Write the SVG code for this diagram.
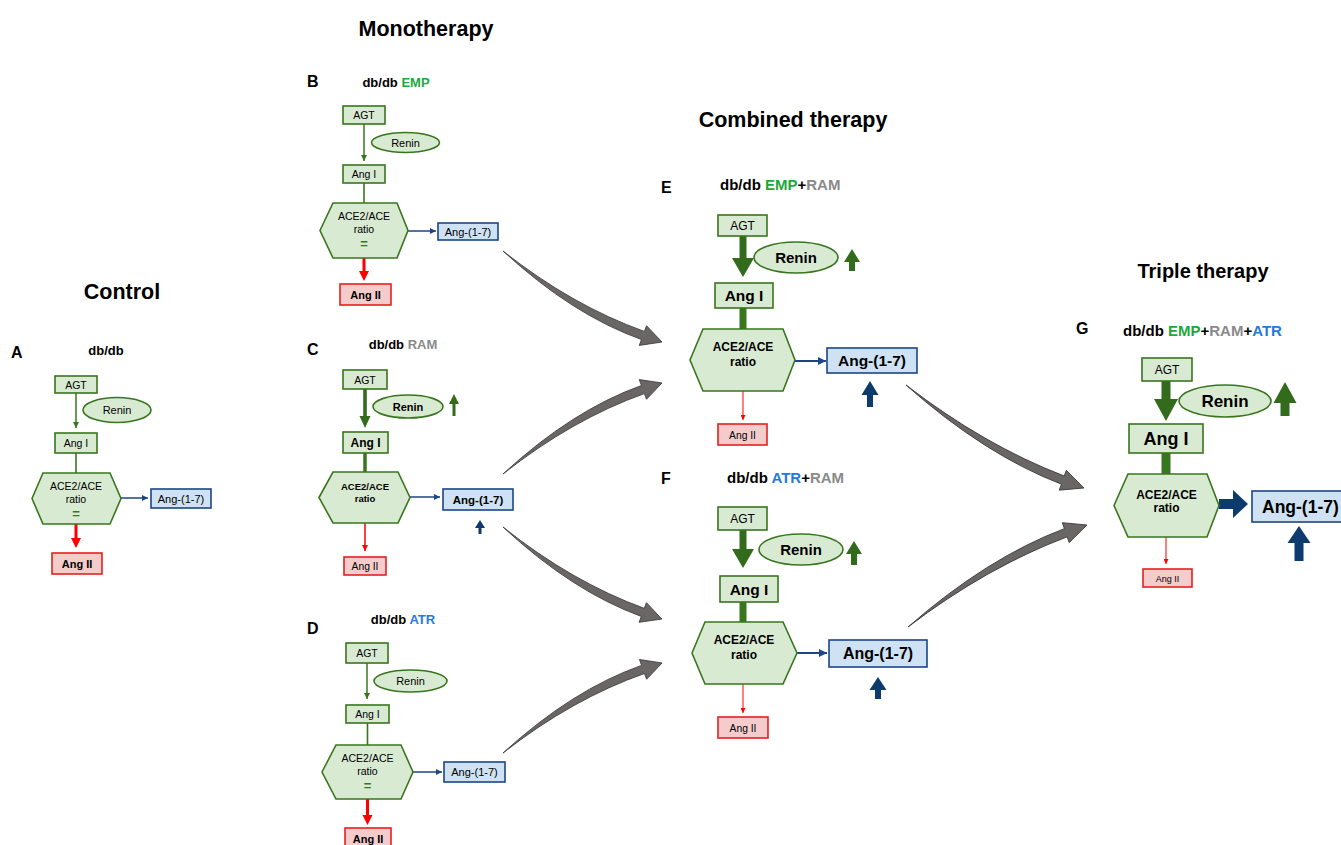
<svg xmlns="http://www.w3.org/2000/svg" width="1341" height="845" viewBox="0 0 1341 845">
<style>
text{font-family:"Liberation Sans",Arial,sans-serif;text-anchor:middle;fill:#000}
.h{font-size:21.5px;font-weight:bold}
.pl{font-size:16px;font-weight:bold;text-anchor:start}
.t1{font-size:13px;font-weight:bold}
.t2{font-size:15px;font-weight:bold;text-anchor:start}
.bd{font-weight:bold}
.n{fill:#d9ead3;stroke:#38761d;stroke-width:1.6}
.b{fill:#cfe2f3;stroke:#1c4587;stroke-width:1.6}
.r{fill:#f4cccc;stroke:#e8201f;stroke-width:1.6}
.emp{fill:#1fa83a}.ram{fill:#8a8a8a}.atr{fill:#1f7be0}
.gl{stroke:#38761d;fill:none}
.bl{stroke:#1c4587;fill:none}
.rl{stroke:#ff0000;fill:none}
.ga{fill:#336b1d}
.ba{fill:#0d3b6e}
.ra{fill:#ff0000}
.eq{fill:#38761d;font-weight:bold;font-size:13px}
.grey{fill:#6b6666;stroke:#3a3a3a;stroke-width:0.8}
</style>
<defs>
<marker id="mg" viewBox="0 0 10 10" refX="10" refY="5" markerWidth="6" markerHeight="6" markerUnits="userSpaceOnUse" orient="auto"><path d="M0,0L10,5L0,10z" fill="#38761d"/></marker>
<marker id="mb" viewBox="0 0 10 10" refX="10" refY="5" markerWidth="6" markerHeight="6" markerUnits="userSpaceOnUse" orient="auto"><path d="M0,0L10,5L0,10z" fill="#1c4587"/></marker>
<marker id="mb2" viewBox="0 0 10 10" refX="10" refY="5" markerWidth="8" markerHeight="8" markerUnits="userSpaceOnUse" orient="auto"><path d="M0,0L10,5L0,10z" fill="#1c4587"/></marker>
<marker id="mr" viewBox="0 0 10 10" refX="10" refY="5" markerWidth="6" markerHeight="6" markerUnits="userSpaceOnUse" orient="auto"><path d="M0,0L10,5L0,10z" fill="#ff0000"/></marker>
<marker id="mr2" viewBox="0 0 10 10" refX="10" refY="5" markerWidth="5" markerHeight="5" markerUnits="userSpaceOnUse" orient="auto"><path d="M0,0L10,5L0,10z" fill="#ff0000"/></marker>
<path id="curv" d="M0,0 Q95,13 177.6,-0.5 L176.5,-6.5 L200,0 L180.3,14.2 L179.2,8 Q100,21 0,0 Z"/>
</defs>

<!-- headings -->
<text class="h" x="426" y="36">Monotherapy</text>
<text class="h" x="122" y="299">Control</text>
<text class="h" x="793" y="127">Combined therapy</text>
<text class="h" x="1203" y="278" style="font-size:20px">Triple therapy</text>

<!-- panel labels and titles -->
<text class="pl" x="11" y="358">A</text>
<text class="t1" x="106" y="355">db/db</text>
<text class="pl" x="307" y="87">B</text>
<text class="t1" x="396" y="87">db/db <tspan class="emp">EMP</tspan></text>
<text class="pl" x="307" y="355">C</text>
<text class="t1" x="403" y="349">db/db <tspan class="ram">RAM</tspan></text>
<text class="pl" x="307" y="634">D</text>
<text class="t1" x="403" y="624">db/db <tspan class="atr">ATR</tspan></text>
<text class="pl" x="661" y="193">E</text>
<text class="t2" x="720" y="190">db/db <tspan class="emp">EMP</tspan>+<tspan class="ram">RAM</tspan></text>
<text class="pl" x="661" y="484">F</text>
<text class="t2" x="727" y="483">db/db <tspan class="atr">ATR</tspan>+<tspan class="ram">RAM</tspan></text>
<text class="pl" x="1076" y="334">G</text>
<text class="t2" x="1123" y="336">db/db <tspan class="emp">EMP</tspan>+<tspan class="ram">RAM</tspan>+<tspan class="atr">ATR</tspan></text>

<!-- connectors -->
<g id="connectors">
  <!-- A -->
  <line class="gl" stroke-width="1.5" x1="76" y1="393" x2="76" y2="428" marker-end="url(#mg)"/>
  <line class="gl" stroke-width="1.6" x1="76" y1="453" x2="76" y2="473"/>
  <line class="bl" stroke-width="1.5" x1="121" y1="498" x2="148" y2="498" marker-end="url(#mb)"/>
  <polygon class="ra" points="74.5,524 77.5,524 77.5,538 81,538 76,548 71,538 74.5,538"/>
  <!-- B -->
  <line class="gl" stroke-width="1.5" x1="364" y1="124" x2="364" y2="161" marker-end="url(#mg)"/>
  <line class="gl" stroke-width="1.6" x1="364" y1="183" x2="364" y2="203"/>
  <line class="bl" stroke-width="1.5" x1="408" y1="231" x2="436" y2="231" marker-end="url(#mb)"/>
  <polygon class="ra" points="362.5,258 365.5,258 365.5,271 369,271 364,281 359,271 362.5,271"/>
  <!-- C -->
  <polygon class="ga" points="363.2,389 366.8,389 366.8,416 370.5,416 365,428 359.5,416 363.2,416"/>
  <polygon class="ga" points="452.5,416 455.5,416 455.5,404 459,404 454,394 449,404 452.5,404"/>
  <line class="gl" stroke-width="3.5" x1="365" y1="453" x2="365" y2="472"/>
  <polygon class="ga" points="364.4,522 365.6,522 365.6,515 367.5,515 365,510 362.5,515 364.4,515"/>
  <line class="bl" stroke-width="1.5" x1="410" y1="497" x2="440" y2="497" marker-end="url(#mb)"/>
  <polygon class="ba" points="478.5,534 481.5,534 481.5,528 485,528 480,520 475,528 478.5,528"/>
  <line class="rl" stroke-width="1.5" x1="365" y1="523" x2="365" y2="551" marker-end="url(#mr)"/>
  <!-- D -->
  <line class="gl" stroke-width="1.5" x1="367" y1="663" x2="367" y2="699" marker-end="url(#mg)"/>
  <line class="gl" stroke-width="1.6" x1="367.5" y1="723" x2="367.5" y2="745"/>
  <line class="bl" stroke-width="1.5" x1="413" y1="772" x2="442" y2="772" marker-end="url(#mb)"/>
  <polygon class="ra" points="366,799 369,799 369,815 372.5,815 367.5,825 362.5,815 366,815"/>
  <!-- E -->
  <polygon class="ga" points="739.5,236 746.5,236 746.5,258 754,258 743,277 732,258 739.5,258"/>
  <polygon class="ga" points="849,271 855,271 855,262 860,262 852,249 844,262 849,262"/>
  <line class="gl" stroke-width="7" x1="743" y1="308" x2="743" y2="329"/>
  <polygon class="ga" points="741.8,385 744.2,385 744.2,378 746.5,378 743,372 739.5,378 741.8,378"/>
  <line class="bl" stroke-width="2" x1="795" y1="361" x2="826" y2="361" marker-end="url(#mb2)"/>
  <polygon class="ba" points="867,407 873,407 873,395 878.5,395 870,381 861.5,395 867,395"/>
  <line class="rl" stroke-width="1" x1="743" y1="391" x2="743" y2="420" marker-end="url(#mr2)"/>
  <!-- F -->
  <polygon class="ga" points="739.5,530 746.5,530 746.5,549 754,549 743,568 732,549 739.5,549"/>
  <polygon class="ga" points="851,565 857,565 857,554 862,554 854,541 846,554 851,554"/>
  <line class="gl" stroke-width="7" x1="743" y1="602" x2="743" y2="622"/>
  <polygon class="ga" points="741.8,678 744.2,678 744.2,670 746.5,670 743,664 739.5,670 741.8,670"/>
  <line class="bl" stroke-width="2" x1="797" y1="653" x2="827" y2="653" marker-end="url(#mb2)"/>
  <polygon class="ba" points="875,699 881,699 881,690 886.5,690 878,677 869.5,690 875,690"/>
  <line class="rl" stroke-width="1" x1="743" y1="684" x2="743" y2="713" marker-end="url(#mr2)"/>
  <!-- G -->
  <polygon class="ga" points="1161.5,381 1170.5,381 1170.5,399 1178,399 1166,421 1154,399 1161.5,399"/>
  <polygon class="ga" points="1280.5,416 1289.5,416 1289.5,403 1296.5,403 1285,382 1273.5,403 1280.5,403"/>
  <line class="gl" stroke-width="9" x1="1166" y1="453" x2="1166" y2="474"/>
  <polygon class="ga" points="1164,532 1169,532 1169,524 1173,524 1166.5,514 1160,524 1164,524"/>
  <polygon class="ba" points="1219,499 1233,499 1233,490 1248,504 1233,518 1233,509 1219,509"/>
  <polygon class="ba" points="1294.5,561 1303.5,561 1303.5,543 1310.5,543 1299,526 1287.5,543 1294.5,543"/>
  <line class="rl" stroke-width="1" x1="1166" y1="537" x2="1166" y2="564" marker-end="url(#mr2)"/>
  <!-- big grey curved arrows -->
  <use href="#curv" class="grey" transform="translate(503,251) rotate(29.8) scale(0.916,1)"/>
  <use href="#curv" class="grey" transform="translate(503,474) rotate(-29.8) scale(0.916,-1)"/>
  <use href="#curv" class="grey" transform="translate(503,527) rotate(30.1) scale(0.918,1)"/>
  <use href="#curv" class="grey" transform="translate(503,753) rotate(-29.5) scale(0.914,-1)"/>
  <use href="#curv" class="grey" transform="translate(906,385) rotate(30.06) scale(1.028,1)"/>
  <use href="#curv" class="grey" transform="translate(908,627) rotate(-29.68) scale(1.03,-1)"/>
</g>

<!-- Panel A nodes -->
<g id="A-AGT"><rect class="n" x="55" y="376" width="42" height="17"/><text x="76" y="388.5" font-size="10.5">AGT</text></g>
<g id="A-Renin"><ellipse class="n" cx="117" cy="410" rx="34" ry="12.5"/><text x="117" y="414" font-size="11">Renin</text></g>
<g id="A-AngI"><rect class="n" x="55" y="433" width="42" height="20"/><text x="76" y="447" font-size="10.5">Ang I</text></g>
<g id="A-ACE"><polygon class="n" points="32,498.5 43,473 110,473 121,498.5 110,524 43,524"/><text x="76" y="490" font-size="10.5">ACE2/ACE</text><text x="76" y="503" font-size="10.5">ratio</text><text class="eq" x="76" y="518">=</text></g>
<g id="A-Ang17"><rect class="b" x="151" y="489" width="60" height="19"/><text x="181" y="502.5" font-size="11">Ang-(1-7)</text></g>
<g id="A-AngII"><rect class="r" x="52" y="553" width="50" height="21"/><text x="77" y="568" font-size="11" class="bd">Ang II</text></g>

<!-- Panel B nodes -->
<g id="B-AGT"><rect class="n" x="343" y="106" width="42" height="18"/><text x="364" y="119" font-size="10.5">AGT</text></g>
<g id="B-Renin"><ellipse class="n" cx="405.5" cy="142.5" rx="34" ry="10"/><text x="405.5" y="146.5" font-size="11">Renin</text></g>
<g id="B-AngI"><rect class="n" x="343" y="165" width="42" height="18"/><text x="364" y="178" font-size="10.5">Ang I</text></g>
<g id="B-ACE"><polygon class="n" points="320,230.5 333,203 397,203 408,230.5 397,258 333,258"/><text x="364" y="220" font-size="10.5">ACE2/ACE</text><text x="364" y="233" font-size="10.5">ratio</text><text class="eq" x="364" y="248">=</text></g>
<g id="B-Ang17"><rect class="b" x="438" y="223" width="60" height="17"/><text x="468" y="235.5" font-size="11">Ang-(1-7)</text></g>
<g id="B-AngII"><rect class="r" x="340" y="284" width="51" height="21"/><text x="365.5" y="298.5" font-size="11" class="bd">Ang II</text></g>

<!-- Panel C nodes -->
<g id="C-AGT"><rect class="n" x="343" y="370" width="44" height="19"/><text x="365" y="383.5" font-size="10.5">AGT</text></g>
<g id="C-Renin"><ellipse class="n" cx="408" cy="406.5" rx="35" ry="11.5"/><text x="408" y="410.5" font-size="11" class="bd">Renin</text></g>
<g id="C-AngI"><rect class="n" x="343" y="432" width="45" height="21"/><text x="365.5" y="447" font-size="12" class="bd">Ang I</text></g>
<g id="C-ACE"><polygon class="n" points="319,497.5 333,472 398,472 410,497.5 398,523 333,523"/><text x="365" y="490" font-size="9.5" class="bd">ACE2/ACE</text><text x="365" y="502" font-size="9.5" class="bd">ratio</text></g>
<g id="C-Ang17"><rect class="b" x="443" y="489" width="70" height="21"/><text x="478" y="503.5" font-size="11.5" class="bd">Ang-(1-7)</text></g>
<g id="C-AngII"><rect class="r" x="344" y="557" width="42" height="18"/><text x="365" y="570" font-size="10.3">Ang II</text></g>

<!-- Panel D nodes -->
<g id="D-AGT"><rect class="n" x="346" y="643" width="42" height="20"/><text x="367" y="657" font-size="10.5">AGT</text></g>
<g id="D-Renin"><ellipse class="n" cx="410.5" cy="681" rx="36.5" ry="11"/><text x="410.5" y="685" font-size="11">Renin</text></g>
<g id="D-AngI"><rect class="n" x="346" y="705" width="43" height="18"/><text x="367.5" y="718" font-size="10.5">Ang I</text></g>
<g id="D-ACE"><polygon class="n" points="322,772 336,745 401,745 413,772 401,799 336,799"/><text x="367.5" y="762" font-size="10.5">ACE2/ACE</text><text x="367.5" y="775" font-size="10.5">ratio</text><text class="eq" x="367.5" y="790">=</text></g>
<g id="D-Ang17"><rect class="b" x="444" y="762" width="61" height="20"/><text x="474.5" y="776" font-size="11">Ang-(1-7)</text></g>
<g id="D-AngII"><rect class="r" x="345" y="828" width="46" height="20"/><text x="368" y="843" font-size="11" class="bd">Ang II</text></g>

<!-- Panel E nodes -->
<g id="E-AGT"><rect class="n" x="718" y="215" width="49" height="21" stroke-width="2"/><text x="742.5" y="230" font-size="12">AGT</text></g>
<g id="E-Renin"><ellipse class="n" cx="796" cy="257.5" rx="42" ry="15.5" stroke-width="2"/><text x="796" y="263" font-size="15" class="bd">Renin</text></g>
<g id="E-AngI"><rect class="n" x="715" y="283" width="58" height="25" stroke-width="2"/><text x="744" y="301" font-size="15.5" class="bd">Ang I</text></g>
<g id="E-ACE"><polygon class="n" points="690,360 703,329 783,329 795,360 783,391 703,391" stroke-width="2"/><text x="743" y="351" font-size="12" class="bd">ACE2/ACE</text><text x="743" y="366" font-size="12" class="bd">ratio</text></g>
<g id="E-Ang17"><rect class="b" x="827" y="348" width="90" height="25" stroke-width="2"/><text x="872" y="366" font-size="15.5" class="bd">Ang-(1-7)</text></g>
<g id="E-AngII"><rect class="r" x="718" y="424" width="49" height="21" stroke-width="2"/><text x="742.5" y="438.5" font-size="10.3">Ang II</text></g>

<!-- Panel F nodes -->
<g id="F-AGT"><rect class="n" x="718" y="507" width="49" height="23" stroke-width="2"/><text x="742.5" y="523" font-size="12">AGT</text></g>
<g id="F-Renin"><ellipse class="n" cx="801" cy="549.5" rx="42" ry="15.5" stroke-width="2"/><text x="801" y="555" font-size="15" class="bd">Renin</text></g>
<g id="F-AngI"><rect class="n" x="720" y="576" width="58" height="26" stroke-width="2"/><text x="749" y="595" font-size="15.5" class="bd">Ang I</text></g>
<g id="F-ACE"><polygon class="n" points="692,653 705,622 783,622 797,653 783,684 705,684" stroke-width="2"/><text x="744" y="644" font-size="12" class="bd">ACE2/ACE</text><text x="744" y="659" font-size="12" class="bd">ratio</text></g>
<g id="F-Ang17"><rect class="b" x="829" y="640" width="98" height="27" stroke-width="2"/><text x="878" y="659" font-size="16" class="bd">Ang-(1-7)</text></g>
<g id="F-AngII"><rect class="r" x="718" y="717" width="50" height="21" stroke-width="2"/><text x="743" y="731.5" font-size="10.3">Ang II</text></g>

<!-- Panel G nodes -->
<g id="G-AGT"><rect class="n" x="1142" y="358" width="50" height="23" stroke-width="2.2"/><text x="1167" y="374" font-size="12">AGT</text></g>
<g id="G-Renin"><ellipse class="n" cx="1225" cy="401" rx="46" ry="16" stroke-width="2.2"/><text x="1225" y="407" font-size="17" class="bd">Renin</text></g>
<g id="G-AngI"><rect class="n" x="1129" y="424" width="74" height="29" stroke-width="2.2"/><text x="1166" y="445" font-size="18" class="bd">Ang I</text></g>
<g id="G-ACE"><polygon class="n" points="1114,505.5 1128,474 1207,474 1219,505.5 1207,537 1128,537" stroke-width="2.2"/><text x="1166.5" y="499" font-size="12" class="bd">ACE2/ACE</text><text x="1166.5" y="512" font-size="12" class="bd">ratio</text></g>
<g id="G-Ang17"><rect class="b" x="1252" y="491" width="95" height="31" stroke-width="2.2"/><text x="1262" y="513" font-size="17.5" class="bd" style="text-anchor:start">Ang-(1-7)</text></g>
<g id="G-AngII"><rect class="r" x="1143" y="569" width="49" height="18" stroke-width="2"/><text x="1167.5" y="581.5" font-size="9">Ang II</text></g>
</svg>
